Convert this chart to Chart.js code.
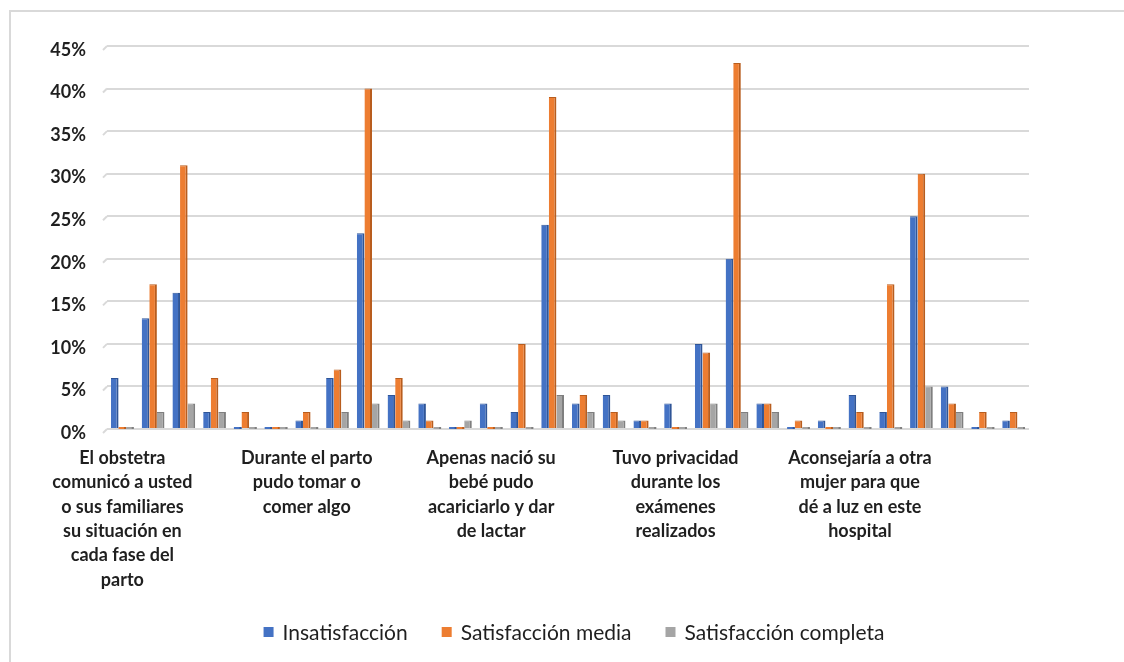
<!DOCTYPE html>
<html>
<head>
<meta charset="utf-8">
<script src="https://cdn.jsdelivr.net/npm/chart.js@4.4.1/dist/chart.umd.min.js"></script>
<style>
  html, body { margin: 0; padding: 0; background: #ffffff; }
  #wrap { position: relative; width: 1124px; height: 662px; }
</style>
</head>
<body>
<div id="wrap"><canvas id="c" width="1124" height="662"></canvas></div>
<script>
// Series names (legend order)
const seriesNames = ['Insatisfacción', 'Satisfacción media', 'Satisfacción completa'];
const seriesColors = ['#4472C4', '#ED7D31', '#A5A5A5'];
const seriesSideColors = ['#2F5597', '#B85D1E', '#7F7F7F'];

// Percentages per item (30 items)
const insatisfaccion      = [6, 13, 16, 2, 0, 0, 1, 6, 23, 4, 3, 0, 3, 2, 24, 3, 4, 1, 3, 10, 20, 3, 0, 1, 4, 2, 25, 5, 0, 1];
const satisfaccionMedia   = [0, 17, 31, 6, 2, 0, 2, 7, 40, 6, 1, 0, 0, 10, 39, 4, 2, 1, 0, 9, 43, 3, 1, 0, 2, 17, 30, 3, 2, 2];
const satisfaccionCompleta = [0, 2, 3, 2, 0, 0, 0, 2, 3, 1, 0, 1, 0, 0, 4, 2, 1, 0, 0, 3, 2, 2, 0, 0, 0, 0, 5, 2, 0, 0];

// Axis labels shown under the items (every sixth item carries one)
const labelledItems = [0, 6, 12, 18, 24];
const itemLabels = [
  ['El obstetra', 'comunicó a usted', 'o sus familiares', 'su situación en', 'cada fase del', 'parto'],
  ['Durante el parto', 'pudo tomar o', 'comer algo'],
  ['Apenas nació su', 'bebé pudo', 'acariciarlo y dar', 'de lactar'],
  ['Tuvo privacidad', 'durante los', 'exámenes', 'realizados'],
  ['Aconsejaría a otra', 'mujer para que', 'dé a luz en este', 'hospital']
];

// Y axis ticks
const yMax = 45;
const yStep = 5;

const categories = insatisfaccion.map((_, i) => {
  const k = labelledItems.indexOf(i);
  return k >= 0 ? itemLabels[k] : '';
});

const FONT = 'Lato, "Open Sans", sans-serif';
const TEXT = '#1f1f1f';

// Outer frame of the chart
const framePlugin = {
  id: 'frame',
  beforeDraw(chart) {
    const c = chart.ctx;
    c.save();
    c.fillStyle = '#ffffff';
    c.fillRect(0, 0, chart.width, chart.height);
    c.strokeStyle = '#D9D9D9';
    c.lineWidth = 2;
    c.beginPath();
    c.moveTo(10, chart.height + 5);
    c.lineTo(10, 11);
    c.lineTo(chart.width + 5, 11);
    c.stroke();
    c.restore();
  }
};

// Small slanted lead-ins at the left end of each gridline
const gridLeadPlugin = {
  id: 'gridLead',
  beforeDatasetsDraw(chart) {
    const c = chart.ctx, y = chart.scales.y, left = chart.chartArea.left;
    c.save();
    c.strokeStyle = '#D9D9D9';
    c.lineWidth = 2;
    y.ticks.forEach(t => {
      const py = y.getPixelForValue(t.value);
      c.beginPath();
      c.moveTo(left - 4, py + 4);
      c.lineTo(left, py);
      c.stroke();
    });
    c.restore();
  }
};

// Flat base for zero-valued bars
const barFacePlugin = {
  id: 'barFace',
  afterDatasetsDraw(chart) {
    const c = chart.ctx;
    c.save();
    chart.data.datasets.forEach((ds, di) => {
      const meta = chart.getDatasetMeta(di);
      meta.data.forEach((el, i) => {
        if (ds.data[i] === 0) {
          const w = el.width;
          c.fillStyle = seriesColors[di];
          c.fillRect(el.x - w / 2, el.base - 2, w, 2);
          c.fillStyle = seriesSideColors[di];
          c.fillRect(el.x + w / 2 - 2, el.base - 2, 2, 2);
        }
      });
    });
    c.restore();
  }
};

// Category labels under the axis
const itemLabelPlugin = {
  id: 'itemLabels',
  afterDraw(chart) {
    const c = chart.ctx, x = chart.scales.x;
    c.save();
    c.font = 'bold 18px ' + FONT;
    c.fillStyle = TEXT;
    c.textAlign = 'center';
    c.textBaseline = 'middle';
    chart.data.labels.forEach((lines, i) => {
      if (!lines || !lines.length) return;
      const cx = x.getPixelForValue(i);
      lines.forEach((l, j) => c.fillText(l, cx, 458 + j * 24.4));
    });
    c.restore();
  }
};

// Legend row at the bottom
const legendRowPlugin = {
  id: 'legendRow',
  afterDraw(chart) {
    const c = chart.ctx;
    c.save();
    c.font = '21px ' + FONT;
    c.textBaseline = 'middle';
    const box = 10, gapBox = 9, gapItem = 34;
    const widths = chart.data.datasets.map(d => c.measureText(d.label).width);
    const total = widths.reduce((a, w) => a + box + gapBox + w, 0) + gapItem * (widths.length - 1);
    let px = 574 - total / 2;
    const py = 632;
    chart.data.datasets.forEach((d, i) => {
      c.fillStyle = seriesColors[i];
      c.fillRect(px, py - box / 2, box, box);
      c.fillStyle = TEXT;
      c.fillText(d.label, px + box + gapBox, py + 1);
      px += box + gapBox + widths[i] + gapItem;
    });
    c.restore();
  }
};

const seriesData = [insatisfaccion, satisfaccionMedia, satisfaccionCompleta];

new Chart(document.getElementById('c'), {
  type: 'bar',
  data: {
    labels: categories,
    datasets: seriesData.map((d, i) => ({
      label: seriesNames[i],
      data: d,
      backgroundColor: seriesColors[i],
      borderColor: seriesSideColors[i],
      borderWidth: { top: 1, right: 2, left: 0, bottom: 0 },
      borderSkipped: false,
      categoryPercentage: 0.74,
      barPercentage: 1
    }))
  },
  options: {
    responsive: false,
    animation: false,
    layout: { padding: { left: 0, right: 95, top: 46, bottom: 233 } },
    plugins: {
      legend: { display: false },
      tooltip: { enabled: false }
    },
    scales: {
      x: {
        grid: { display: false },
        border: { display: false },
        ticks: { display: false },
        afterFit(s) { s.height = 0; }
      },
      y: {
        min: 0,
        max: yMax,
        ticks: {
          stepSize: yStep,
          callback: v => v + '%',
          font: { family: FONT, weight: 'bold', size: 18 },
          color: TEXT,
          padding: 21,
          labelOffset: 4
        },
        grid: { color: '#D9D9D9', lineWidth: 2, drawTicks: false },
        border: { display: false },
        afterFit(s) { s.width = 107; }
      }
    }
  },
  plugins: [framePlugin, gridLeadPlugin, barFacePlugin, itemLabelPlugin, legendRowPlugin]
});
</script>
</body>
</html>
